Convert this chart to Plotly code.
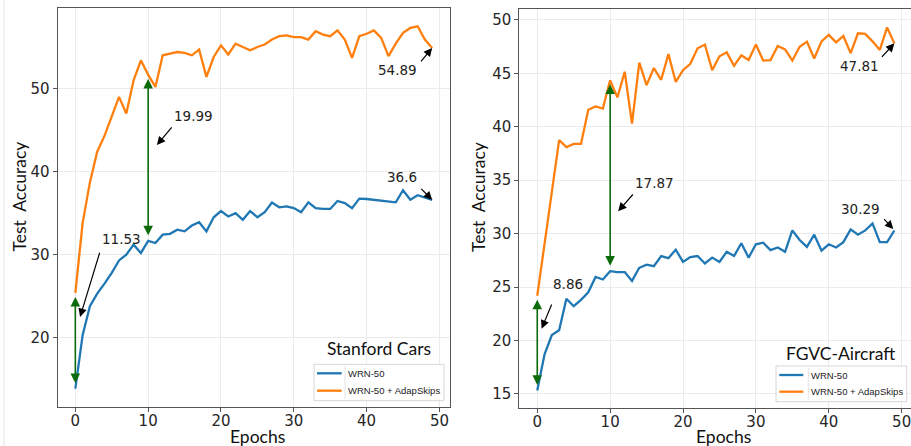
import plotly.graph_objects as go

# ---- data -------------------------------------------------------------
epochs = list(range(50))

cars_wrn = [13.86, 20.3, 23.8, 25.3, 26.5, 27.8, 29.3, 30.0, 31.2, 30.2,
            31.66, 31.4, 32.4, 32.5, 33.0, 32.8, 33.5, 33.9, 32.8, 34.5,
            35.25, 34.6, 35.0, 34.2, 35.25, 34.5, 35.1, 36.26, 35.7, 35.8,
            35.6, 35.1, 36.3, 35.6, 35.5, 35.5, 36.46, 36.2, 35.6, 36.75,
            36.7, 36.6, 36.5, 36.4, 36.3, 37.75, 36.6, 37.15, 36.9, 36.6]

cars_adap = [25.39, 33.8, 38.7, 42.4, 44.3, 46.6, 49.0, 47.0, 51.0, 53.4,
             51.65, 50.2, 54.0, 54.2, 54.4, 54.3, 54.0, 54.7, 51.4, 53.8,
             55.2, 54.1, 55.4, 55.0, 54.6, 55.0, 55.3, 55.9, 56.3, 56.4,
             56.2, 56.2, 55.9, 56.9, 56.5, 56.3, 57.0, 55.9, 53.7, 56.3,
             56.6, 57.0, 56.1, 53.9, 55.4, 56.7, 57.3, 57.5, 55.9, 54.89]

air_wrn = [15.32, 18.7, 20.5, 20.95, 23.9, 23.2, 23.8, 24.5, 25.94, 25.7,
           26.48, 26.4, 26.4, 25.57, 26.8, 27.1, 26.95, 27.9, 27.7, 28.5,
           27.35, 27.8, 27.9, 27.2, 27.75, 27.35, 28.3, 27.9, 29.1, 27.75,
           29.0, 29.15, 28.45, 28.7, 28.3, 30.3, 29.4, 28.75, 29.9, 28.4,
           29.0, 28.7, 29.2, 30.4, 29.9, 30.3, 30.95, 29.2, 29.2, 30.29]

air_adap = [24.18, 29.1, 34.0, 38.75, 38.1, 38.4, 38.4, 41.6, 41.9, 41.7,
            44.35, 42.75, 45.15, 40.3, 46.0, 43.9, 45.5, 44.4, 46.8, 44.2,
            45.3, 45.9, 47.35, 47.7, 45.3, 46.6, 46.97, 45.7, 46.7, 46.25,
            47.7, 46.2, 46.25, 47.56, 47.25, 46.2, 47.5, 47.97, 46.4, 48.0,
            48.6, 47.9, 48.5, 46.9, 48.75, 48.7, 48.0, 47.2, 49.3, 47.81]

series_names = ["WRN-50", "WRN-50 + AdapSkips"]
panel_titles = ["Stanford Cars", "FGVC-Aircraft"]
gap_epochs = [0, 10]

x_ticks = [0, 10, 20, 30, 40, 50]
cars_y_ticks = [20, 30, 40, 50]
air_y_ticks = [15, 20, 25, 30, 35, 40, 45, 50]

# ---- styling ----------------------------------------------------------
W, H = 911, 446
BLUE, ORANGE, GREEN = "#1f77b4", "#ff7f0e", "#0b6b0b"
SERIES_COLORS = [BLUE, ORANGE]
SPINE, GRID = "#555555", "#ebebeb"
TICK_FONT = dict(family="DejaVu Sans", size=15, color="#262626")
LABEL_FONT = dict(family="Lato", size=17.5, color="#111111")
NOTE_FONT = dict(family="DejaVu Sans", size=13.5, color="#222222")
LEGEND_FONT = dict(family="Liberation Sans", size=9.5, color="#222222")


def px(x):
    return x / W


def py(y):
    return (H - y) / H


fig = go.Figure()

panels = [
    dict(wrn=cars_wrn, adap=cars_adap, xa="x", ya="y"),
    dict(wrn=air_wrn, adap=air_adap, xa="x2", ya="y2"),
]

for p in panels:
    for name, vals, col in zip(series_names, (p["wrn"], p["adap"]),
                               SERIES_COLORS):
        fig.add_trace(go.Scatter(
            x=epochs, y=vals, mode="lines", name=name, showlegend=False,
            line=dict(color=col, width=2.3),
            xaxis=p["xa"], yaxis=p["ya"],
        ))

# ---- annotations: gaps (green double arrows) and value call-outs -------
annotations = []
shapes = []


def gap_arrow(xa, ya, e, lo, hi):
    annotations.append(dict(
        x=e, y=hi, ax=e, ay=lo, xref=xa, yref=ya, axref=xa, ayref=ya,
        text="", showarrow=True, arrowside="end+start",
        arrowhead=2, startarrowhead=2, arrowsize=1.2, startarrowsize=1.2,
        arrowwidth=1.6, arrowcolor=GREEN, standoff=4, startstandoff=4,
    ))


def callout(xa, ya, label, text_xy, tail_xy, tip_xy):
    annotations.append(dict(
        x=tip_xy[0], y=tip_xy[1], ax=tail_xy[0], ay=tail_xy[1],
        xref=xa, yref=ya, axref=xa, ayref=ya, text="", showarrow=True,
        arrowhead=2, arrowsize=1.4, arrowwidth=1.2, arrowcolor="#000000",
    ))
    annotations.append(dict(
        x=text_xy[0], y=text_xy[1], xref=xa, yref=ya, text=label,
        showarrow=False, font=NOTE_FONT, xanchor="center", yanchor="middle",
    ))


# Stanford Cars
for e in gap_epochs:
    gap_arrow("x", "y", e, cars_wrn[e], cars_adap[e])
callout("x", "y", f"{cars_adap[0] - cars_wrn[0]:.2f}",
        (6.3, 31.9), (3.4, 30.4), (0.65, 22.5))
callout("x", "y", f"{cars_adap[10] - cars_wrn[10]:.2f}",
        (16.2, 46.7), (13.4, 45.5), (11.2, 43.2))
callout("x", "y", f"{cars_adap[-1]:g}",
        (44.3, 52.2), (47.3, 53.1), (epochs[-1], cars_adap[-1]))
callout("x", "y", f"{cars_wrn[-1]:g}",
        (44.9, 39.35), (47.3, 38.1), (epochs[-1], cars_wrn[-1]))

# FGVC-Aircraft
for e in gap_epochs:
    gap_arrow("x2", "y2", e, air_wrn[e], air_adap[e])
callout("x2", "y2", f"{air_adap[0] - air_wrn[0]:.2f}",
        (4.25, 25.3), (2.06, 23.5), (0.6, 21.1))
callout("x2", "y2", f"{air_adap[10] - air_wrn[10]:.2f}",
        (16.1, 34.75), (13.3, 33.8), (11.1, 32.1))
callout("x2", "y2", f"{air_adap[-1]:g}",
        (44.2, 45.7), (47.1, 46.4), (epochs[-1], air_adap[-1]))
callout("x2", "y2", f"{air_wrn[-1]:g}",
        (44.3, 32.35), (47.4, 31.5), (48.85, air_wrn[-1] + 0.15))

# axis titles and panel titles (pixel positions -> paper)
for cx in (257.7, 723.3):
    annotations.append(dict(x=px(cx), y=py(436), xref="paper", yref="paper",
                            text="Epochs", showarrow=False, font=LABEL_FONT,
                            xanchor="center", yanchor="middle"))
for cx in (18.5, 478):
    annotations.append(dict(x=px(cx), y=py(197), xref="paper", yref="paper",
                            text="Test&nbsp; Accuracy", textangle=-90,
                            showarrow=False, font=LABEL_FONT,
                            xanchor="center", yanchor="middle"))
for title, rx, cy in zip(panel_titles, (433.3, 897.3), (348.3, 353.3)):
    annotations.append(dict(x=px(rx), y=py(cy), xref="paper", yref="paper",
                            text=title, showarrow=False, font=LABEL_FONT,
                            xanchor="right", yanchor="middle"))


# ---- legend boxes (one per panel) ---------------------------------------
def legend_box(x0, x1, y0, y1, line_x0, line_x1, sep_x, text_x, rows):
    shapes.append(dict(type="rect", xref="paper", yref="paper",
                       x0=px(x0), x1=px(x1), y0=py(y1), y1=py(y0),
                       line=dict(color="#d6d6d6", width=1),
                       fillcolor="white", layer="above"))
    shapes.append(dict(type="line", xref="paper", yref="paper",
                       x0=px(sep_x), x1=px(sep_x), y0=py(y1 - 2),
                       y1=py(y0 + 2), line=dict(color="#e4e4e4", width=1),
                       layer="above"))
    for name, col, ry in zip(series_names, SERIES_COLORS, rows):
        shapes.append(dict(type="line", xref="paper", yref="paper",
                           x0=px(line_x0), x1=px(line_x1),
                           y0=py(ry), y1=py(ry),
                           line=dict(color=col, width=2.3), layer="above"))
        annotations.append(dict(x=px(text_x), y=py(ry), xref="paper",
                                yref="paper", text=name, showarrow=False,
                                font=LEGEND_FONT, xanchor="left",
                                yanchor="middle"))


legend_box(314, 444, 364.3, 400.7, 317, 341.7, 345, 345.5, (373.3, 390.7))
legend_box(776, 906.7, 366, 401.7, 779.3, 803.3, 808.3, 808.8, (375, 391.7))

# ---- axes -------------------------------------------------------------
common_x = dict(tickvals=x_ticks, showgrid=True, gridcolor=GRID, gridwidth=1,
                showline=True, linecolor=SPINE, linewidth=1, mirror=True,
                ticks="outside", ticklen=4, tickcolor=SPINE, zeroline=False,
                tickfont=TICK_FONT, ticklabeloverflow="allow",
                ticklabelstandoff=-4)
common_y = dict(common_x)
common_y.pop("tickvals")
common_y["ticklabelstandoff"] = 0

fig.update_layout(
    width=W, height=H, margin=dict(l=0, r=0, t=0, b=0),
    paper_bgcolor="white", plot_bgcolor="white", showlegend=False,
    xaxis=dict(common_x, domain=[px(57.5), px(450)], range=[-2.45, 51.45]),
    yaxis=dict(common_y, domain=[py(407), py(8)], range=[11.65, 59.7],
               tickvals=cars_y_ticks),
    xaxis2=dict(common_x, domain=[px(519.4), 1.0], range=[-2.45, 51.28],
                anchor="y2"),
    yaxis2=dict(common_y, domain=[py(407.7), py(9.3)], range=[13.7, 51.0],
                tickvals=air_y_ticks, anchor="x2"),
    annotations=annotations,
    shapes=shapes + [dict(type="line", xref="paper", yref="paper",
                          x0=px(4), x1=px(4), y0=0, y1=1,
                          line=dict(color="#e2e2e2", width=1))],
)

fig.write_html("out.html")
